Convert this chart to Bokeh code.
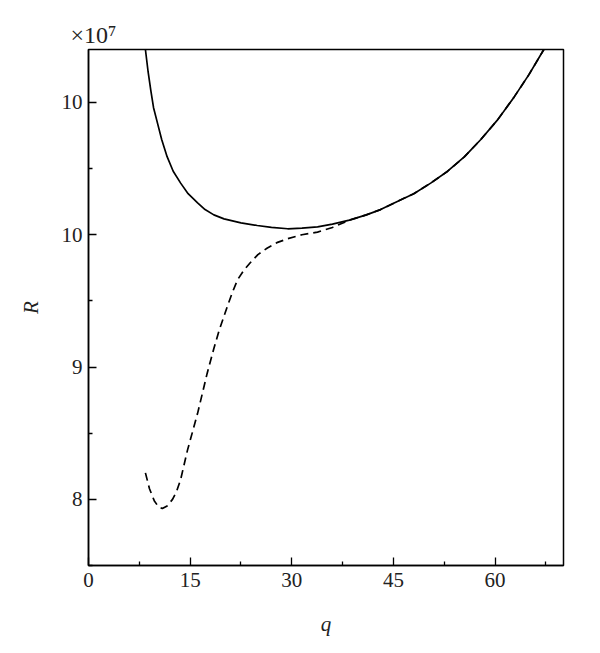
from bokeh.plotting import figure
from bokeh.models import FixedTicker, Range1d
from bokeh.embed import file_html
from bokeh.resources import INLINE

# ---- data ----
solid_q = [8.4, 8.8, 9.2, 9.6, 10.2, 10.8, 11.6, 12.5, 13.6, 14.7, 16.1, 17.2, 18.5, 20.0,
           22.5, 24.9, 27.0, 29.4, 31.5, 33.8, 36.0, 38.5, 41.0, 43.1, 45.5, 48.0, 50.5,
           53.0, 55.5, 57.9, 60.4, 62.8, 65.0, 67.2]
solid_R = [11.40, 11.23, 11.09, 10.96, 10.84, 10.72, 10.59, 10.48, 10.39, 10.31, 10.24, 10.19,
           10.15, 10.12, 10.09, 10.07, 10.055, 10.045, 10.05, 10.06, 10.08, 10.11, 10.15,
           10.19, 10.25, 10.31, 10.39, 10.48, 10.59, 10.72, 10.87, 11.04, 11.21, 11.40]

dash_q = [8.4, 9.0, 9.7, 10.3, 10.9, 11.6, 12.4, 13.0, 13.6, 14.6, 16.1, 17.5, 18.5, 19.3,
          20.5, 21.2, 22.0, 22.9, 23.9, 25.0, 26.4, 27.8, 29.4, 31.5, 33.8, 36.0, 38.5, 41.0,
          43.1, 45.5, 48.0, 50.5, 53.0, 55.5, 57.9, 60.4, 62.8, 65.0, 67.2]
dash_R = [8.20, 8.08, 7.99, 7.945, 7.93, 7.95, 8.00, 8.06, 8.15, 8.37, 8.65, 8.95, 9.14, 9.28,
          9.46, 9.56, 9.66, 9.73, 9.79, 9.85, 9.90, 9.94, 9.97, 10.00, 10.02, 10.055, 10.11,
          10.15, 10.19, 10.25, 10.31, 10.39, 10.48, 10.59, 10.72, 10.87, 11.04, 11.21, 11.40]

x_ticks = [0, 15, 30, 45, 60]
x_minor = [7.5, 22.5, 37.5, 52.5, 67.5]
y_ticks = [8, 9, 10, 11]
y_minor = [7.5, 8.5, 9.5, 10.5]
y_labels = {8: "8", 9: "9", 10: "10", 11: "10"}
scale_text = "×10⁷"

FONT = "Liberation Serif"
INK = "#222222"

p = figure(width=598, height=645, output_backend="svg", toolbar_location=None,
           x_range=Range1d(0, 70.1), y_range=Range1d(7.5, 11.4),
           min_border_left=88, min_border_right=35, min_border_top=49, min_border_bottom=80)
p.background_fill_color = "white"
p.border_fill_color = "white"
p.grid.visible = False
p.outline_line_color = "black"
p.outline_line_width = 1.5

p.title.text = scale_text
p.title.align = "left"
p.title.offset = -18
p.title.standoff = 3
p.title.text_font = FONT
p.title.text_font_size = "24px"
p.title.text_font_style = "normal"
p.title.text_color = INK

p.line(solid_q, solid_R, line_color="black", line_width=1.7)
p.line(dash_q, dash_R, line_color="black", line_width=1.7, line_dash="8 5")

for ax in (p.xaxis[0], p.yaxis[0]):
    ax.axis_line_color = "black"
    ax.axis_line_width = 1.5
    ax.major_tick_line_color = "black"
    ax.minor_tick_line_color = "black"
    ax.major_tick_line_width = 1.3
    ax.minor_tick_line_width = 1.3
    ax.major_tick_in = 8
    ax.major_tick_out = 0
    ax.minor_tick_in = 4
    ax.minor_tick_out = 0
    ax.major_label_text_font = FONT
    ax.major_label_text_font_size = "21px"
    ax.major_label_text_color = INK
    ax.axis_label_text_font = FONT
    ax.axis_label_text_font_style = "italic"
    ax.axis_label_text_font_size = "21px"
    ax.axis_label_text_color = INK

p.xaxis.ticker = FixedTicker(ticks=x_ticks, minor_ticks=x_minor)
p.yaxis.ticker = FixedTicker(ticks=y_ticks, minor_ticks=y_minor)
p.yaxis.major_label_overrides = y_labels
p.xaxis.axis_label = "q"
p.yaxis.axis_label = "R"
p.xaxis.major_label_standoff = 7
p.yaxis.major_label_standoff = 6
p.xaxis.axis_label_standoff = 22
p.yaxis.axis_label_standoff = 16

open("out.html", "w").write(file_html(p, INLINE))
